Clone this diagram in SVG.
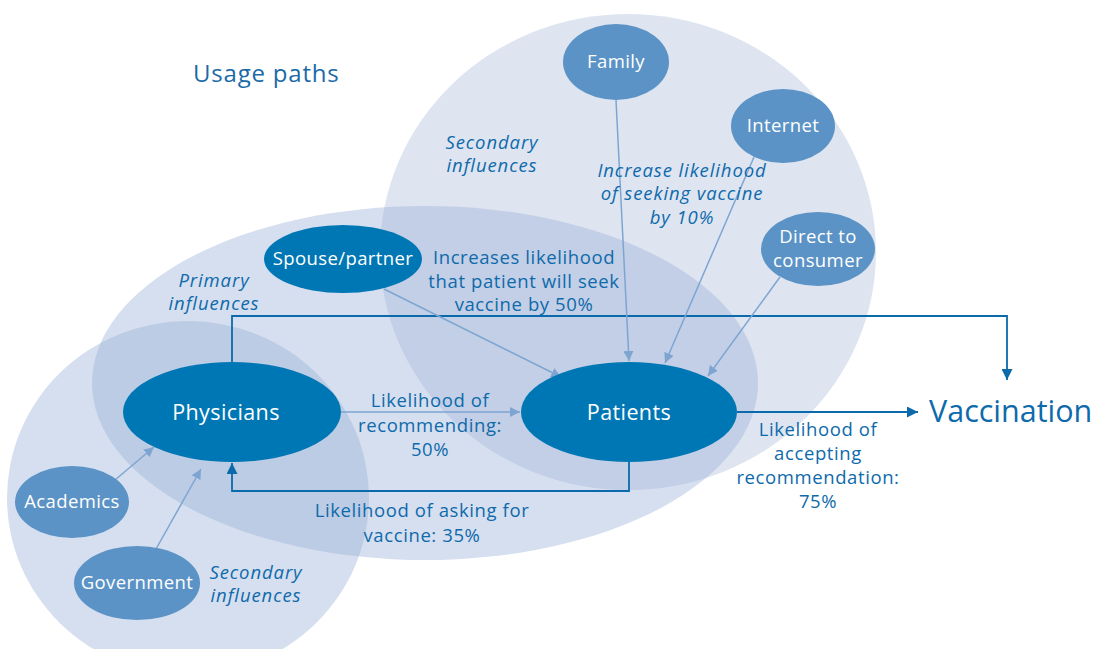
<svg xmlns="http://www.w3.org/2000/svg" width="1097" height="649" viewBox="0 0 1097 649">
<defs>
<style>
.bgS{fill:#dee5f1}
.bgP{fill:#99b0d7;fill-opacity:0.4}
.dark{fill:#0077b5}
.light{fill:#5b93c6}
.nl{font-family:"Open Sans","Noto Sans",sans-serif;fill:#ffffff;text-anchor:middle;letter-spacing:0.4px}
.lbl{font-family:"Open Sans","Noto Sans",sans-serif;fill:#0e6aab;font-size:18.5px;text-anchor:middle;letter-spacing:0.6px}
.it{font-style:italic;letter-spacing:0.9px}
.la{stroke:#7ea5d2;stroke-width:1.5;fill:none}
.da{stroke:#0b6aab;stroke-width:1.8;fill:none}
</style>
<marker id="mLight" viewBox="0 0 10 10" refX="10" refY="5" markerWidth="10" markerHeight="10" markerUnits="userSpaceOnUse" orient="auto">
<path d="M0,0 L10,5 L0,10 z" fill="#7ea5d2"/>
</marker>
<marker id="mDark" viewBox="0 0 10 10" refX="10" refY="5" markerWidth="11" markerHeight="11" markerUnits="userSpaceOnUse" orient="auto">
<path d="M0,0 L10,5 L0,10 z" fill="#0b6aab"/>
</marker>
</defs>
<rect width="1097" height="649" fill="#ffffff"/>
<g id="background">
<ellipse class="bgS" cx="628" cy="252" rx="248" ry="238"/>
<ellipse class="bgP" cx="425" cy="383" rx="333" ry="177"/>
<ellipse class="bgP" cx="188" cy="498" rx="181" ry="177"/>
</g>
<text x="193" y="82" font-family="'Open Sans','Noto Sans',sans-serif" font-size="24" letter-spacing="0.8" fill="#1a6aa8">Usage paths</text>
<g id="connectors">
<path class="da" d="M232,362 V316 H1007 V380" marker-end="url(#mDark)"/>
<path class="da" d="M629,462 V491 H232 V463" marker-end="url(#mDark)"/>
<path class="da" d="M737,412 H918" marker-end="url(#mDark)"/>
<path class="la" d="M341,412 H520" marker-end="url(#mLight)"/>
<path class="la" d="M616,100 L629,361" marker-end="url(#mLight)"/>
<path class="la" d="M754,157 L665,363" marker-end="url(#mLight)"/>
<path class="la" d="M780,277 L708,376" marker-end="url(#mLight)"/>
<path class="la" d="M384,289 L561,377" marker-end="url(#mLight)"/>
<path class="la" d="M115,480 L154,447" marker-end="url(#mLight)"/>
<path class="la" d="M156,549 L201,469" marker-end="url(#mLight)"/>
</g>
<g id="family"><ellipse class="light" cx="616" cy="62" rx="53" ry="38"/><text class="nl" x="616" y="68" font-size="18.5">Family</text></g>
<g id="internet"><ellipse class="light" cx="783" cy="126" rx="52" ry="37"/><text class="nl" x="783" y="132" font-size="18.5">Internet</text></g>
<g id="direct"><ellipse class="light" cx="818" cy="249" rx="57" ry="37"/><text class="nl" x="818" y="243" font-size="18.5">Direct to</text><text class="nl" x="818" y="267" font-size="18.5">consumer</text></g>
<g id="spouse"><ellipse class="dark" cx="343" cy="259" rx="79" ry="34"/><text class="nl" x="343" y="265" font-size="18.5">Spouse/partner</text></g>
<g id="physicians"><ellipse class="dark" cx="232" cy="412" rx="109" ry="50"/><text class="nl" x="226" y="420" font-size="21.5">Physicians</text></g>
<g id="patients"><ellipse class="dark" cx="629" cy="412" rx="108" ry="50"/><text class="nl" x="629" y="420" font-size="21.5">Patients</text></g>
<g id="academics"><ellipse class="light" cx="72" cy="502" rx="57" ry="36"/><text class="nl" x="72" y="508" font-size="18.5">Academics</text></g>
<g id="government"><ellipse class="light" cx="137" cy="583" rx="63" ry="37"/><text class="nl" x="137" y="589" font-size="18.5">Government</text></g>
<g id="vaccination"><text x="929" y="422" font-family="'Open Sans','Noto Sans',sans-serif" font-size="30.5" fill="#0e6aab">Vaccination</text></g>
<g id="labels">
<text class="lbl it" x="492" y="149">Secondary</text>
<text class="lbl it" x="492" y="172">influences</text>
<text class="lbl it" x="682" y="177">Increase likelihood</text>
<text class="lbl it" x="682" y="200">of seeking vaccine</text>
<text class="lbl it" x="682" y="224">by 10%</text>
<text class="lbl" x="524" y="264">Increases likelihood</text>
<text class="lbl" x="524" y="288">that patient will seek</text>
<text class="lbl" x="524" y="311">vaccine by 50%</text>
<text class="lbl it" x="214" y="287">Primary</text>
<text class="lbl it" x="214" y="310">influences</text>
<text class="lbl" x="430" y="407">Likelihood of</text>
<text class="lbl" x="430" y="432">recommending:</text>
<text class="lbl" x="430" y="456">50%</text>
<text class="lbl" x="818" y="436">Likelihood of</text>
<text class="lbl" x="818" y="460">accepting</text>
<text class="lbl" x="818" y="484">recommendation:</text>
<text class="lbl" x="818" y="508">75%</text>
<text class="lbl" x="422" y="517">Likelihood of asking for</text>
<text class="lbl" x="422" y="542">vaccine: 35%</text>
<text class="lbl it" x="256" y="579">Secondary</text>
<text class="lbl it" x="256" y="602">influences</text>
</g>
</svg>
